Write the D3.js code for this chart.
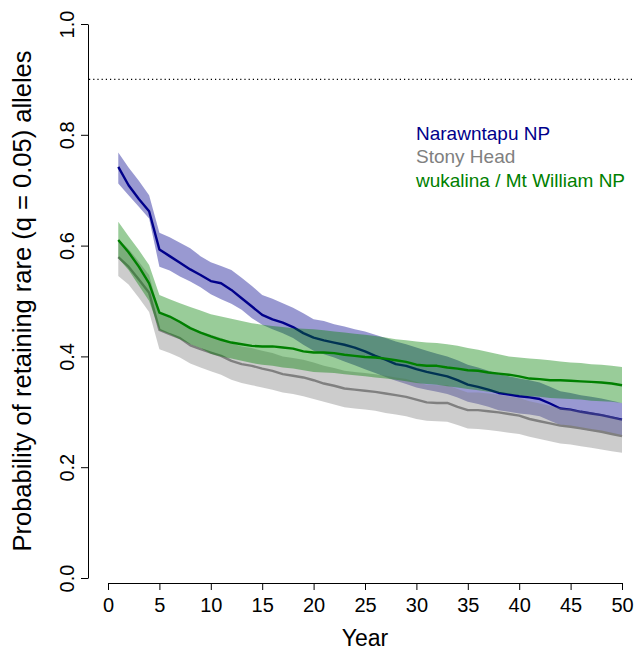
<!DOCTYPE html>
<html><head><meta charset="utf-8">
<script src="https://cdn.jsdelivr.net/npm/d3@7/dist/d3.min.js"></script>
<style>body{margin:0;background:#fff}svg{display:block;font-family:"Liberation Sans",Arial,Helvetica,sans-serif}</style>
</head><body><svg id="c" width="635" height="652"></svg>
<script>
const years = d3.range(1, 51);
const xTicks = [0,5,10,15,20,25,30,35,40,45,50];
const yTicks = [0,0.2,0.4,0.6,0.8,1.0];
const seriesNames = ["Narawntapu NP","Stony Head","wukalina / Mt William NP"];
const refLine = 0.9;

const blueMean = [0.742,0.709,0.684,0.662,0.593,0.581,0.569,0.557,0.547,0.536,
0.532,0.520,0.505,0.490,0.475,0.467,0.461,0.453,0.442,0.434,
0.429,0.425,0.421,0.416,0.409,0.401,0.394,0.386,0.383,0.377,
0.372,0.368,0.364,0.357,0.349,0.345,0.340,0.334,0.331,0.328,
0.326,0.323,0.315,0.306,0.304,0.300,0.297,0.294,0.290,0.286];
const blueUpper = [0.768,0.741,0.717,0.691,0.623,0.615,0.605,0.595,0.581,0.570,
0.563,0.556,0.542,0.527,0.511,0.504,0.496,0.488,0.478,0.467,
0.464,0.458,0.454,0.449,0.445,0.439,0.433,0.427,0.422,0.416,
0.410,0.405,0.400,0.393,0.385,0.380,0.374,0.368,0.364,0.360,
0.357,0.353,0.345,0.337,0.334,0.330,0.327,0.324,0.320,0.316];
const blueLower = [0.712,0.691,0.670,0.649,0.562,0.555,0.544,0.535,0.525,0.512,
0.503,0.495,0.484,0.469,0.457,0.449,0.442,0.433,0.421,0.410,
0.404,0.398,0.391,0.384,0.377,0.370,0.363,0.356,0.350,0.344,
0.340,0.336,0.332,0.326,0.318,0.314,0.309,0.303,0.300,0.297,
0.295,0.292,0.284,0.276,0.273,0.269,0.266,0.263,0.259,0.256];

const greyMean = [0.579,0.562,0.539,0.515,0.448,0.440,0.433,0.420,0.413,0.407,
0.401,0.392,0.386,0.383,0.378,0.374,0.368,0.365,0.362,0.357,
0.351,0.347,0.342,0.340,0.338,0.336,0.333,0.330,0.327,0.322,
0.317,0.316,0.316,0.309,0.303,0.303,0.301,0.299,0.296,0.293,
0.287,0.283,0.279,0.275,0.273,0.270,0.267,0.264,0.260,0.256];
const greyUpper = [0.612,0.594,0.571,0.547,0.479,0.472,0.465,0.452,0.445,0.439,
0.433,0.424,0.418,0.415,0.410,0.406,0.400,0.397,0.394,0.389,
0.383,0.379,0.374,0.372,0.370,0.368,0.365,0.362,0.359,0.354,
0.349,0.348,0.348,0.341,0.335,0.335,0.333,0.331,0.328,0.325,
0.319,0.315,0.311,0.307,0.305,0.302,0.299,0.296,0.292,0.287];
const greyLower = [0.545,0.530,0.506,0.480,0.413,0.406,0.398,0.387,0.380,0.373,
0.367,0.358,0.352,0.348,0.344,0.340,0.335,0.332,0.328,0.323,
0.318,0.313,0.308,0.306,0.304,0.302,0.298,0.295,0.292,0.287,
0.284,0.283,0.282,0.276,0.270,0.269,0.267,0.265,0.262,0.260,
0.255,0.251,0.247,0.243,0.241,0.238,0.235,0.232,0.229,0.226];

const greenMean = [0.610,0.588,0.562,0.532,0.479,0.472,0.462,0.451,0.443,0.436,
0.430,0.425,0.422,0.419,0.418,0.418,0.416,0.414,0.409,0.407,
0.407,0.406,0.403,0.401,0.399,0.398,0.396,0.393,0.390,0.385,
0.383,0.383,0.380,0.378,0.375,0.374,0.371,0.369,0.367,0.364,
0.360,0.359,0.357,0.357,0.356,0.355,0.354,0.353,0.351,0.348];
const greenUpper = [0.643,0.617,0.592,0.565,0.511,0.503,0.496,0.489,0.483,0.476,
0.472,0.468,0.464,0.460,0.457,0.455,0.453,0.451,0.450,0.449,
0.447,0.445,0.443,0.441,0.439,0.437,0.434,0.431,0.429,0.427,
0.425,0.424,0.422,0.419,0.415,0.412,0.408,0.404,0.400,0.398,
0.396,0.395,0.393,0.391,0.389,0.388,0.386,0.385,0.383,0.381];
const greenLower = [0.577,0.556,0.528,0.500,0.447,0.440,0.431,0.422,0.415,0.405,
0.400,0.396,0.392,0.388,0.385,0.383,0.380,0.378,0.375,0.372,
0.371,0.370,0.368,0.366,0.364,0.362,0.360,0.358,0.355,0.352,
0.350,0.349,0.346,0.344,0.341,0.339,0.336,0.334,0.332,0.330,
0.328,0.327,0.325,0.324,0.323,0.322,0.320,0.319,0.318,0.316];

const colors = ["#00008b","#808080","#008000"];
const series = [
  {name: seriesNames[0], mean: blueMean, lo: blueLower, hi: blueUpper, color: colors[0]},
  {name: seriesNames[1], mean: greyMean, lo: greyLower, hi: greyUpper, color: colors[1]},
  {name: seriesNames[2], mean: greenMean, lo: greenLower, hi: greenUpper, color: colors[2]}
];

const svg = d3.select("#c");
const x = d3.scaleLinear().domain([0,50]).range([108,622]);
const y = d3.scaleLinear().domain([0,1]).range([578,24]);

// reference dotted line
svg.append("line").attr("x1",89).attr("x2",635).attr("y1",y(refLine)).attr("y2",y(refLine))
  .attr("stroke","#000").attr("stroke-width",1.2).attr("stroke-dasharray","1.2,3");

const area = d3.area().x((d,i)=>x(years[i])).y0(d=>y(d[0])).y1(d=>y(d[1]));
const line = d3.line().x((d,i)=>x(years[i])).y(d=>y(d));

series.forEach(s => {
  const pts = s.lo.map((v,i)=>[v, s.hi[i]]);
  svg.append("path").attr("d", area(pts)).attr("fill", s.color).attr("fill-opacity",0.4).attr("stroke","none");
  svg.append("path").attr("d", line(s.mean)).attr("fill","none").attr("stroke", s.color).attr("stroke-width",2.4).attr("stroke-linejoin","round");
});

// axes
const xAxis = svg.append("g").attr("transform","translate(0,583)")
  .call(d3.axisBottom(x).tickValues(xTicks).tickSize(7).tickPadding(8).tickSizeOuter(0));
xAxis.selectAll(".domain").attr("stroke","#000").attr("stroke-width",1);
xAxis.selectAll("text").attr("font-size",20).attr("fill","#000").attr("font-family","Liberation Sans, Arial, sans-serif");

const yAxis = svg.append("g").attr("transform","translate(88,0)")
  .call(d3.axisLeft(y).tickValues(yTicks).tickFormat(d3.format(".1f")).tickSize(7).tickSizeOuter(0));
yAxis.selectAll(".domain").attr("stroke","#000");
yAxis.selectAll(".tick text").attr("font-size",20).attr("fill","#000")
  .attr("font-family","Liberation Sans, Arial, sans-serif")
  .attr("transform","translate(-21,0) rotate(-90)").attr("text-anchor","middle").attr("x",0).attr("dy","0.35em");

svg.append("text").attr("x", x(25)).attr("y", 646).attr("text-anchor","middle")
  .attr("font-size",23).text("Year");
svg.append("text").attr("transform","translate(31,"+(y(0.5))+") rotate(-90)").attr("text-anchor","middle")
  .attr("font-size",25.5).text("Probability of retaining rare (q = 0.05) alleles");

// legend
const legY = [133,156,180];
series.forEach((s,i)=>{
  svg.append("text").attr("x",416).attr("y",legY[i]).attr("dy","0.35em")
    .attr("font-size",19).attr("fill", s.color).text(s.name);
});
</script></body></html>
